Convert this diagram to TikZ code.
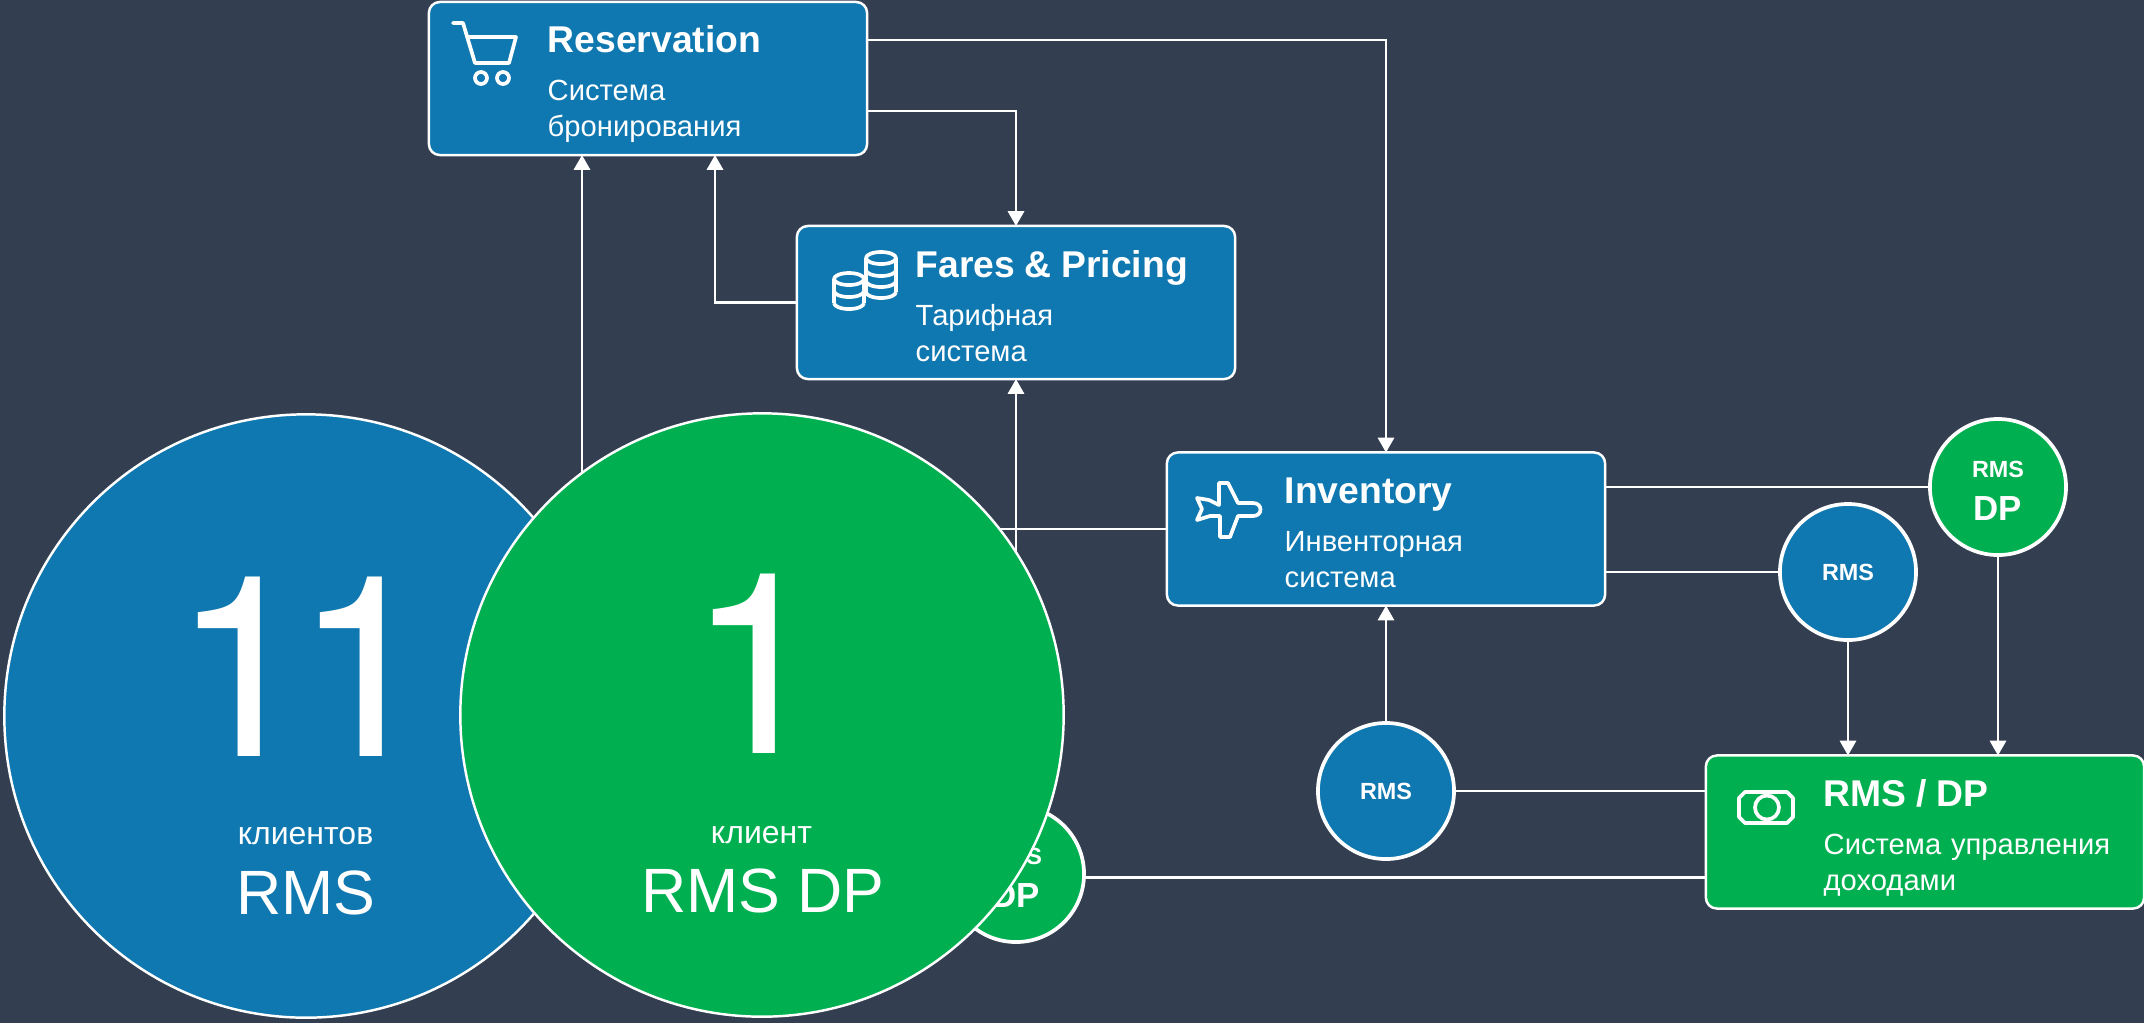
\documentclass[tikz,border=0pt]{standalone}
\usepackage{fontspec}
\setmainfont{Liberation Sans}
\newfontfamily\heros{TeX Gyre Heros}
\usetikzlibrary{arrows.meta}
\definecolor{fond}{HTML}{333F50}
\definecolor{bleu}{HTML}{1078B0}
\definecolor{vert}{HTML}{00B050}
\newcommand{\petit}{\fontsize{6.65}{8}\selectfont\bfseries}
\newcommand{\moyen}{\fontsize{9.9}{12}\selectfont\bfseries}
\newcommand{\titre}[1]{{\fontsize{10.6}{12}\selectfont\bfseries #1}}

\begin{document}
\begin{tikzpicture}[x=0.01cm,y=-0.01cm,
                    systeme/.style={draw=white, line width=0.7pt, rounded corners=0.11cm, inner sep=0pt, outer sep=0pt, minimum width=4.38cm, minimum height=1.53cm},
                    legende/.style={text=white, anchor=base west, align=left, text width=3.1cm, inner sep=0pt, font=\fontsize{8.3}{10.25}\selectfont},
                    rond/.style={circle, draw=white, line width=1.05pt, inner sep=0pt, outer sep=0pt, minimum size=1.36cm, text=white, align=center},
                    grandrond/.style={circle, draw=white, line width=0.7pt, inner sep=0pt, outer sep=0pt, minimum size=6.03cm},
                    chiffre/.style={text=white, anchor=base, inner sep=0pt, font=\heros\fontsize{72}{72}\selectfont},
                    mot/.style={text=white, anchor=base, inner sep=0pt, font=\fontsize{9.1}{10}\selectfont},
                    sigle/.style={text=white, anchor=base, inner sep=0pt, font=\fontsize{17.8}{20}\selectfont},
                    fleche/.style={draw=white, line width=0.7pt, -{Triangle[width=4.6pt,length=4.2pt]}},
                    ligne/.style={draw=white, line width=0.7pt},
                    icone/.style={draw=white, line width=1.05pt, line join=round}]

	\useasboundingbox (0,0) rectangle (2144,1023);
	\fill[fond] (0,0) rectangle (2144,1023);

	\node[systeme, fill=bleu] (Reservation) at (648,78.5) {};
	\node[systeme, fill=bleu] (Fares) at (1016,302.5) {};
	\node[systeme, fill=bleu] (Inventory) at (1386,529) {};
	\node[systeme, fill=vert] (RevenueMgmt) at (1925,832) {};

	\node[legende] (ReservationText) at (547,52) {\titre{Reservation}\\[3.5pt]Система\\бронирования};
	\node[legende] (FaresText) at (915,277) {\titre{Fares \& Pricing}\\[3.5pt]Тарифная\\система};
	\node[legende] (InventoryText) at (1284,503) {\titre{Inventory}\\[3.5pt]Инвенторная\\система};
	\node[legende] (RevenueMgmtText) at (1823,806) {\titre{RMS / DP}\\[3.5pt]Система управления\\доходами};

	\node[rond, fill=vert] (DPhaut) at (1998,487) {{\petit\rule{0pt}{6.8pt}RMS}\\{\moyen DP}};
	\node[rond, fill=bleu] (RMSdroite) at (1848,572) {\petit RMS};
	\node[rond, fill=bleu] (RMSbas) at (1386,791) {\petit RMS};
	\node[rond, fill=vert] (DPcache) at (1016,874) {{\petit\rule{0pt}{6.8pt}RMS}\\{\moyen DP}};

	\coordinate (depart) at (582,529);

	\draw[fleche] (Reservation.east |- 0,40) -| (Inventory.north);
	\draw[fleche] (Reservation.east |- 0,111) -| (Fares.north);
	\draw[fleche] (Fares.west) -| (715,155);
	\draw[fleche] (depart) -- (depart |- Reservation.south);
	\draw[ligne] (depart) -- (Inventory.west);
	\draw[fleche] (DPcache.north) -- (Fares.south);
	\draw[ligne] (DPcache.-3) -- (DPcache.-3 -| RevenueMgmt.west);
	\draw[fleche] (RMSbas) -- (Inventory.south);
	\draw[ligne] (RMSbas) -- (RMSbas -| RevenueMgmt.west);
	\draw[ligne] (Inventory.east |- DPhaut) -- (DPhaut);
	\draw[ligne] (Inventory.east |- RMSdroite) -- (RMSdroite);
	\draw[fleche] (RMSdroite) -- (RMSdroite |- RevenueMgmt.north);
	\draw[fleche] (DPhaut) -- (DPhaut |- RevenueMgmt.north);

	% chariot
	\draw[icone, line cap=round] (453,23) -- (463,23) -- (475,63) -- (509,63) -- (516,37) -- (467,37);
	\draw[icone] (481,78) circle (6) (503,78) circle (6);

	% pieces
	\draw[icone] (881,258) ellipse (15 and 6) (866,258) -- (866,292) (896,258) -- (896,292);
	\foreach \y in {270,281,292}
		\draw[icone] (866,\y) arc[start angle=180, end angle=360, x radius=15, y radius=-6];
	\draw[icone] (849,279) ellipse (15 and 6) (834,279) -- (834,303) (864,279) -- (864,303);
	\foreach \y in {291,303}
		\draw[icone] (834,\y) arc[start angle=180, end angle=360, x radius=15, y radius=-6];

	% avion
	\draw[icone] (1197,498) -- (1209,500) -- (1219,505) -- (1219,483) -- (1228,483) -- (1238,503) -- (1253,503) .. controls (1263,503) and (1263,516) .. (1253,516) -- (1238,516) -- (1230,537) -- (1220,537) -- (1220,516) -- (1210,516) -- (1197,520) -- (1202,509) -- cycle;

	% billet
	\draw[icone] (1745,792) -- (1787,792) -- (1793,798) -- (1793,817) -- (1787,823) -- (1745,823) -- (1739,817) -- (1739,798) -- cycle;
	\draw[icone] (1767,807.5) circle (12);

	\node[grandrond, fill=bleu] (GrandRMS) at (306,716) {};
	\node[chiffre] (NombreRMS) at (303.5,756) {1\kern-0.19cm 1};
	\node[mot] (MotRMS) at (305.5,844) {клиентов};
	\node[sigle] (SigleRMS) at (306,914) {RMS};

	\node[grandrond, fill=vert] (GrandDP) at (762,715) {};
	\node[chiffre] (NombreDP) at (758,753) {1};
	\node[mot] (MotDP) at (761.5,843) {клиент};
	\node[sigle] (SigleDP) at (763,912) {RMS DP};

\end{tikzpicture}
\end{document}
